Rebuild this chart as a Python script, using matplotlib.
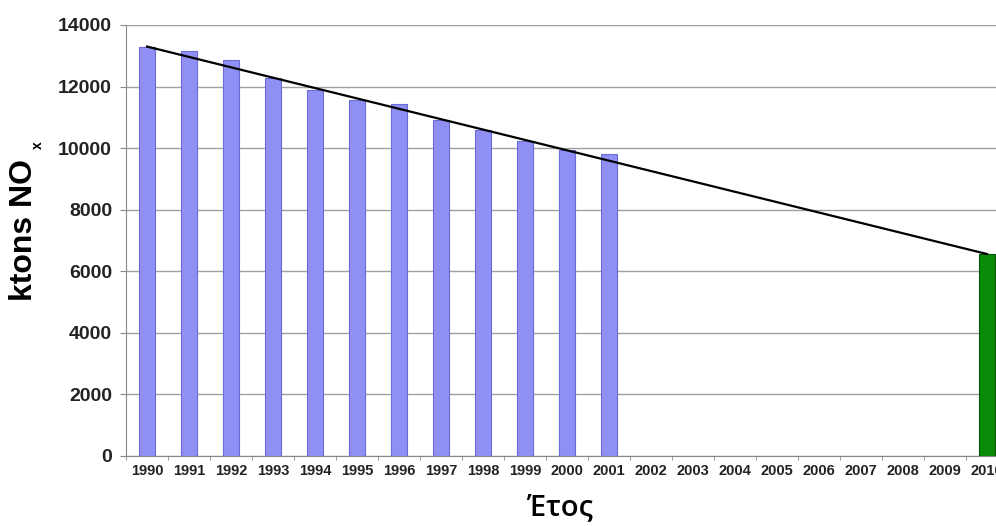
import matplotlib.pyplot as plt
import numpy as np

# NOx emissions (ktons)
years = list(range(1990, 2011))
emissions = [13300, 13150, 12860, 12280, 11890, 11570, 11420, 10920,
             10600, 10230, 9950, 9800, None, None, None, None, None, None,
             None, None, None]
target_year = 2010
target_value = 6560

x = np.arange(len(years))
fig = plt.figure(figsize=(9.96, 5.26), dpi=100)
# axes run a little past the right edge, like the cropped original
ax = fig.add_axes([126 / 996, 70 / 526, 882 / 996, 431 / 526])

hist_x = [xi for xi, v in zip(x, emissions) if v is not None]
hist_v = [v for v in emissions if v is not None]
ax.bar(hist_x, hist_v, width=0.4, color='#9090f4', edgecolor='#6a6ad8',
       linewidth=0.8, zorder=3)
ti = years.index(target_year)
ax.bar(ti, target_value, width=0.4, color='#0a8a0a', edgecolor='#045604',
       linewidth=0.8, zorder=3)

# straight trend line from 1990 value to 2010 target
ax.plot([0, ti], [emissions[0], target_value], color='black', lw=1.6, zorder=4)

ax.set_xlim(-0.5, len(years) - 0.5)
ax.set_ylim(0, 14000)
ax.set_yticks(np.arange(0, 14001, 2000))
ax.set_xticks(x)
ax.set_xticklabels([str(y) for y in years], fontsize=10.5, fontweight='bold',
                   family='Liberation Sans', color='#222222')
ax.set_xticks(np.arange(-0.5, len(years), 1), minor=True)
ax.tick_params(axis='x', which='major', length=0, pad=5.5)
ax.tick_params(axis='x', which='minor', length=3, color='#888888')
ax.tick_params(axis='y', length=4, color='#888888', pad=6)
for lab in ax.get_yticklabels():
    lab.set_fontsize(14)
    lab.set_fontweight('bold')
    lab.set_family('Liberation Sans')
    lab.set_color('#222222')

ax.grid(axis='y', color='#a0a0a0', linewidth=1.0, zorder=0)
for s in ['top', 'right']:
    ax.spines[s].set_visible(False)
ax.spines['left'].set_color('#888888')
ax.spines['bottom'].set_color('#888888')

fig.text(24 / 996, 1 - 230 / 526, 'ktons NO', rotation=90, fontsize=23,
         fontweight='bold', family='Liberation Sans', ha='center', va='center')
fig.text(38 / 996, 1 - 145 / 526, 'x', rotation=90, fontsize=10,
         fontweight='bold', family='Liberation Sans', ha='center', va='center')
fig.text(560 / 996, 1 - 508 / 526, 'Έτος', fontsize=21, fontweight='semibold',
         family='Open Sans', ha='center', va='center')

fig.savefig('out.png', dpi=100)
